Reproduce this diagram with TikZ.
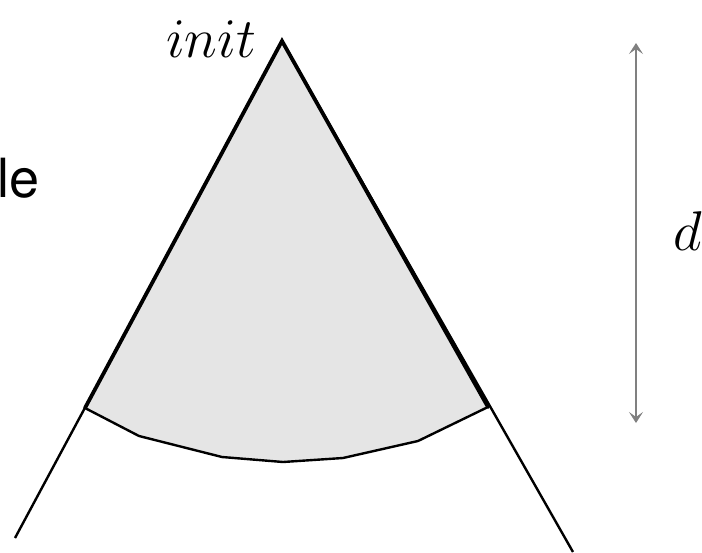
\RequirePackage{fix-cm}
\documentclass[tikz,border=0pt]{standalone}
\usepackage{fontspec}
\setsansfont{TeX Gyre Heros}
\usetikzlibrary{arrows.meta}
\definecolor{sectorgray}{HTML}{E5E5E5}
\definecolor{arrowgray}{HTML}{808080}
\begin{document}
\begin{tikzpicture}[x=1pt,y=-1pt,
  thinline/.style={line width=2.4pt,black},
  sideline/.style={line width=3.8pt,black,line cap=round},
  arcline/.style={line width=2.4pt,black,line join=miter},
  bigmath/.style={inner sep=0pt,font=\fontsize{56}{60}\selectfont},
  dimarrow/.style={arrowgray,line width=2.6pt,{Stealth[length=11pt,width=14pt,inset=5pt]}-{Stealth[length=11pt,width=14pt,inset=5pt]}}]
\useasboundingbox (0,0) rectangle (702,552);
\coordinate (apex) at (282,41);
\coordinate (lend) at (15,538);
\coordinate (rend) at (573,552);
\coordinate (lc) at (85,408);
\coordinate (p1) at (139,436);
\coordinate (p2) at (222,457);
\coordinate (p3) at (283,462);
\coordinate (p4) at (343,458);
\coordinate (p5) at (418,441);
\coordinate (rc) at (488,407);
\fill[sectorgray] (apex) -- (lc) -- (p1) -- (p2) -- (p3) -- (p4) -- (p5) -- (rc) -- cycle;
\draw[thinline] (apex) -- (lend);
\draw[thinline] (apex) -- (rend);
\draw[sideline] (lc) -- (apex) -- (rc);
\draw[arcline] (lc) -- (p1) -- (p2) -- (p3) -- (p4) -- (p5) -- (rc);
\node[bigmath,anchor=base] (init) at (211,57) {$init$};
\node[bigmath,anchor=base west] (dlab) at (673,250) {$d$};
\node[inner sep=0pt,anchor=base east,font=\sffamily\fontsize{54}{60}\selectfont] (angle) at (40,197) {le};
\coordinate (dtop) at (636,43);
\coordinate (dbot) at (636,423);
\draw[dimarrow] (dtop) -- (dbot);
\end{tikzpicture}
\end{document}
